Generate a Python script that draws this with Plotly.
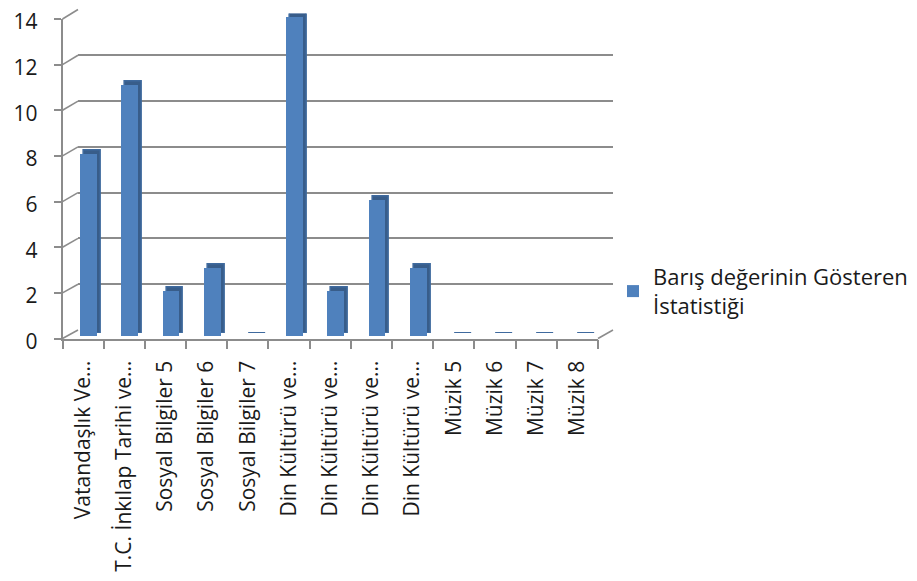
import plotly.graph_objects as go

categories = ["Vatandaşlık Ve…", "T.C. İnkılap Tarihi ve…", "Sosyal Bilgiler 5",
              "Sosyal Bilgiler 6", "Sosyal Bilgiler 7", "Din Kültürü ve…",
              "Din Kültürü ve…", "Din Kültürü ve…", "Din Kültürü ve…",
              "Müzik 5", "Müzik 6", "Müzik 7", "Müzik 8"]
values = [8, 11, 2, 3, 0, 14, 2, 6, 3, 0, 0, 0, 0]
series_name = "Barış değerinin Gösteren<br>İstatistiği"
y_ticks = [0, 2, 4, 6, 8, 10, 12, 14]

W, H = 917, 581
OFF = 8  # page body margin
FONT = "Open Sans"
GRID = "#8c8c8c"
TXT = "#1a1a1a"

n = len(categories)
xs = list(range(n))
ymax = 14

# geometry in screen pixels (converted to figure coords by subtracting OFF)
front_x = (62.5, 598.0); front_y = (338.5, 19.0)     # (y of 0, y of max)
back_x = (78.0, 613.0);  back_y = (330.0, 9.5)
bar_dx, bar_dy = 5.4, -2.5
dep_dx, dep_dy = 4.0, -3.0

def px_dom_x(a, b):
    return [(a - OFF) / W, (b - OFF) / W]

def px_dom_y(bottom, top):
    return [1 - (bottom - OFF) / H, min(1.0, 1 - (top - OFF) / H)]

fig = go.Figure()

# back wall (x / y)
fig.add_trace(go.Scatter(x=xs, y=values, mode="none", showlegend=False,
                         hoverinfo="skip", xaxis="x", yaxis="y", opacity=0))
# depth / side of bars (x2 / y2)
fig.add_trace(go.Bar(x=xs, y=values, width=0.41,
                     marker=dict(color="#385d8a", line=dict(width=1.5, color="#3f6a9e")),
                     showlegend=False, hoverinfo="skip", xaxis="x2", yaxis="y2"))
# front face of bars (x3 / y3)
fig.add_trace(go.Bar(x=xs, y=values, width=0.41, name=series_name,
                     marker=dict(color="#4f81bd", line=dict(width=0)),
                     xaxis="x3", yaxis="y3"))
# front axes (x4 / y4)
fig.add_trace(go.Scatter(x=xs, y=values, mode="none", showlegend=False,
                         hoverinfo="skip", xaxis="x4", yaxis="y4", opacity=0))

xr = [-0.5, n - 0.5]
yr = [0, ymax]
hidden = dict(visible=False, fixedrange=True)

fig.update_layout(
    width=W, height=H,
    margin=dict(l=0, r=0, t=0, b=0, autoexpand=False),
    paper_bgcolor="white", plot_bgcolor="rgba(0,0,0,0)",
    font=dict(family=FONT, size=21, color=TXT),
    bargap=0,
    xaxis=dict(domain=px_dom_x(*back_x), range=xr, visible=False, fixedrange=True),
    yaxis=dict(domain=px_dom_y(*back_y), range=yr, showgrid=True, gridcolor=GRID,
               gridwidth=1.6, tickvals=y_ticks, showticklabels=False, ticks="",
               zeroline=False, showline=False, fixedrange=True),
    xaxis2=dict(domain=px_dom_x(front_x[0] + bar_dx + dep_dx, front_x[1] + bar_dx + dep_dx),
                range=xr, anchor="y2", **hidden),
    yaxis2=dict(domain=px_dom_y(front_y[0] + bar_dy + dep_dy, front_y[1] + bar_dy + dep_dy),
                range=yr, anchor="x2", **hidden),
    xaxis3=dict(domain=px_dom_x(front_x[0] + bar_dx, front_x[1] + bar_dx),
                range=xr, anchor="y3", **hidden),
    yaxis3=dict(domain=px_dom_y(front_y[0] + bar_dy, front_y[1] + bar_dy),
                range=yr, anchor="x3", **hidden),
    xaxis4=dict(domain=px_dom_x(*front_x), range=xr, anchor="y4", automargin=False,
                showline=True, linecolor=GRID, linewidth=1.6,
                tickvals=xs, ticktext=categories, ticks="", tickangle=-90,
                ticklabelstandoff=12, ticklabeloverflow="allow",
                showgrid=False, zeroline=False,
                minor=dict(tickvals=[i - 0.5 for i in range(n + 1)], ticks="outside",
                           ticklen=9, tickcolor=GRID, tickwidth=1.6, showgrid=False),
                tickfont=dict(family=FONT, size=21, color=TXT), fixedrange=True),
    yaxis4=dict(domain=px_dom_y(*front_y), range=yr, anchor="x4", automargin=False,
                showline=True, linecolor=GRID, linewidth=1.6,
                tickvals=y_ticks, ticks="outside", ticklen=7, tickcolor=GRID, tickwidth=1.6,
                ticklabelstandoff=12, ticklabelshift=3, ticklabeloverflow="allow",
                showgrid=False, zeroline=False,
                tickfont=dict(family=FONT, size=21, color=TXT), fixedrange=True),
    legend=dict(x=(613 - OFF) / W, y=1 - (256 - OFF) / H, xanchor="left", yanchor="top",
                font=dict(family=FONT, size=22, color=TXT),
                itemwidth=30, bgcolor="rgba(0,0,0,0)"),
    showlegend=True,
)

# left-wall diagonals and floor edges (decoration derived from axis geometry)
def fy(v, geom):
    y0, y1 = geom
    return y0 + (y1 - y0) * v / ymax

shapes = []
for v in y_ticks:
    shapes.append(dict(type="line", xref="paper", yref="paper",
                       x0=(front_x[0] - OFF) / W, y0=1 - (fy(v, front_y) - OFF) / H,
                       x1=(back_x[0] - OFF) / W, y1=1 - (fy(v, back_y) - OFF) / H,
                       line=dict(color=GRID, width=1.6)))
shapes.append(dict(type="line", xref="paper", yref="paper",
                   x0=(front_x[1] - OFF) / W, y0=1 - (front_y[0] - OFF) / H,
                   x1=(back_x[1] - OFF) / W, y1=1 - (back_y[0] - OFF) / H,
                   line=dict(color=GRID, width=1.6)))
fig.update_layout(shapes=shapes)

fig.write_html("out.html")
